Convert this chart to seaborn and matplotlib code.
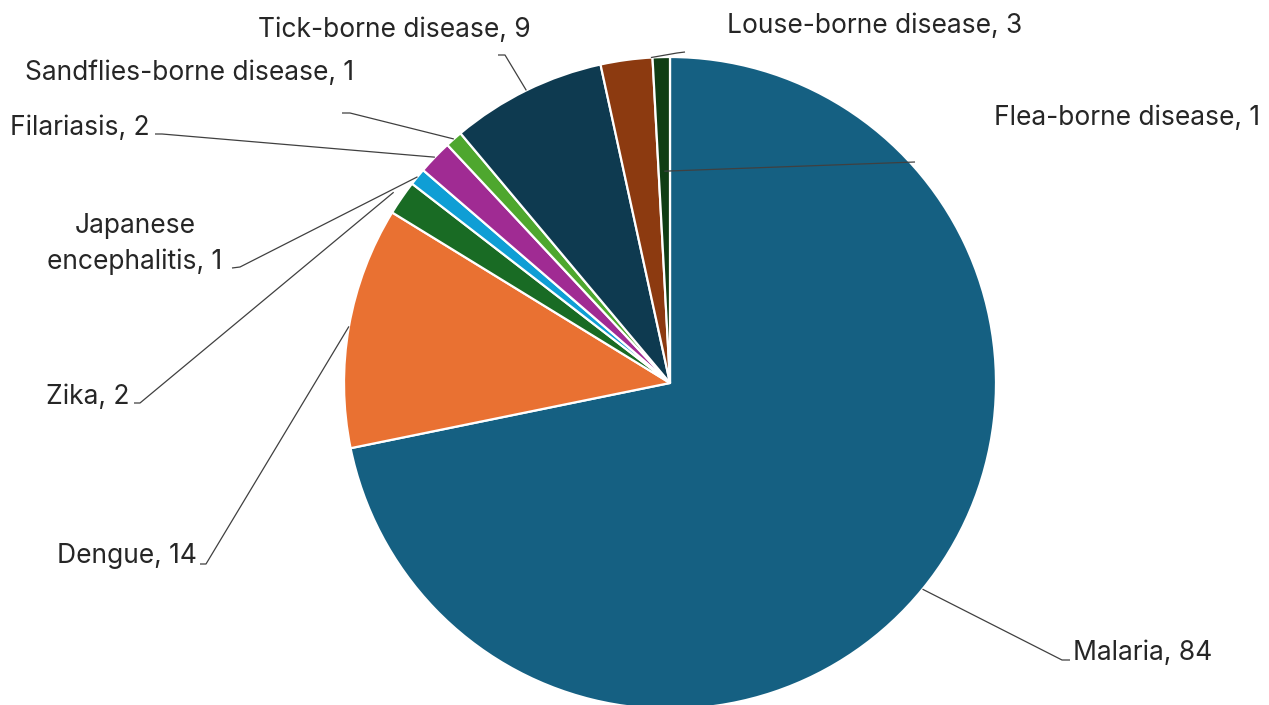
import numpy as np
import matplotlib
matplotlib.use("Agg")
import matplotlib.pyplot as plt
import seaborn as sns

# Vector-borne disease counts, clockwise from 12 o'clock
diseases = ["Malaria", "Dengue", "Zika", "Japanese\nencephalitis", "Filariasis",
            "Sandflies-borne disease", "Tick-borne disease", "Louse-borne disease",
            "Flea-borne disease"]
counts = [84, 14, 2, 1, 2, 1, 9, 3, 1]
colors = ["#156082", "#E97132", "#196B24", "#0F9ED5", "#A02B93",
          "#4EA72E", "#0E3A50", "#8C3A10", "#0F3D14"]

sns.set_theme(style="white")
plt.rcParams["font.family"] = ["Inter", "DejaVu Sans"]

W, H = 1269, 705
fig = plt.figure(figsize=(W / 100, H / 100), dpi=100)
ax = fig.add_axes([0, 0, 1, 1])


def py(y):
    """Convert a top-down pixel row to the upward data axis."""
    return H - y


cx, cy, R = 670, 383, 326
wedges, _ = ax.pie(counts, colors=sns.color_palette(colors), startangle=90,
                   counterclock=False, center=(cx, py(cy)), radius=R,
                   wedgeprops=dict(edgecolor="white", linewidth=1.6))

# label layout: text position, alignment, leader hook points, anchor (fraction along wedge, radius factor)
layout = {
    "Malaria": dict(xy=(1073, 653), ha="left", hook=[(1070, 660), (1062, 660)], frac=0.5, rf=1.0),
    "Dengue": dict(xy=(197, 556), ha="right", hook=[(200, 564), (206, 564)], frac=0.5, rf=1.0),
    "Zika": dict(xy=(130, 397), ha="right", hook=[(134, 403), (140, 403)], frac=0.5, rf=1.03),
    "Japanese\nencephalitis": dict(xy=(135, 244), ha="center", hook=[(232, 268), (240, 267)], frac=0.5, rf=1.0),
    "Filariasis": dict(xy=(150, 128), ha="right", hook=[(155, 134), (162, 134)], frac=0.5, rf=1.0),
    "Sandflies-borne disease": dict(xy=(190, 73), ha="center", hook=[(342, 113), (350, 113)], frac=0.5, rf=1.0),
    "Tick-borne disease": dict(xy=(394, 30), ha="center", hook=[(498, 55), (505, 55)], frac=0.5, rf=1.0),
    "Louse-borne disease": dict(xy=(875, 26), ha="center", hook=[(685, 52), (677, 53)], frac=0.97, rf=1.0),
    "Flea-borne disease": dict(xy=(1127, 118), ha="center", hook=[(915, 162)], frac=0.5, rf=0.65),
}

line_color = "#404040"
for wedge, name, value in zip(wedges, diseases, counts):
    spec = layout[name]
    t1, t2 = wedge.theta1, wedge.theta2
    ang = np.deg2rad(t2 - spec["frac"] * (t2 - t1))
    ax_pt = (cx + spec["rf"] * R * np.cos(ang), py(cy) + spec["rf"] * R * np.sin(ang))
    pts = [(x, py(y)) for x, y in spec["hook"]] + [ax_pt]
    xs, ys = zip(*pts)
    ax.plot(xs, ys, color=line_color, lw=0.9, solid_capstyle="butt")
    ax.text(spec["xy"][0], py(spec["xy"][1]), f"{name}, {value}", ha=spec["ha"],
            va="center", fontsize=19, color="#262626", multialignment="center",
            linespacing=1.45)

ax.set_xlim(0, W)
ax.set_ylim(0, H)
ax.set_aspect("equal")
ax.axis("off")

fig.savefig("out.png", dpi=100, facecolor="white")
